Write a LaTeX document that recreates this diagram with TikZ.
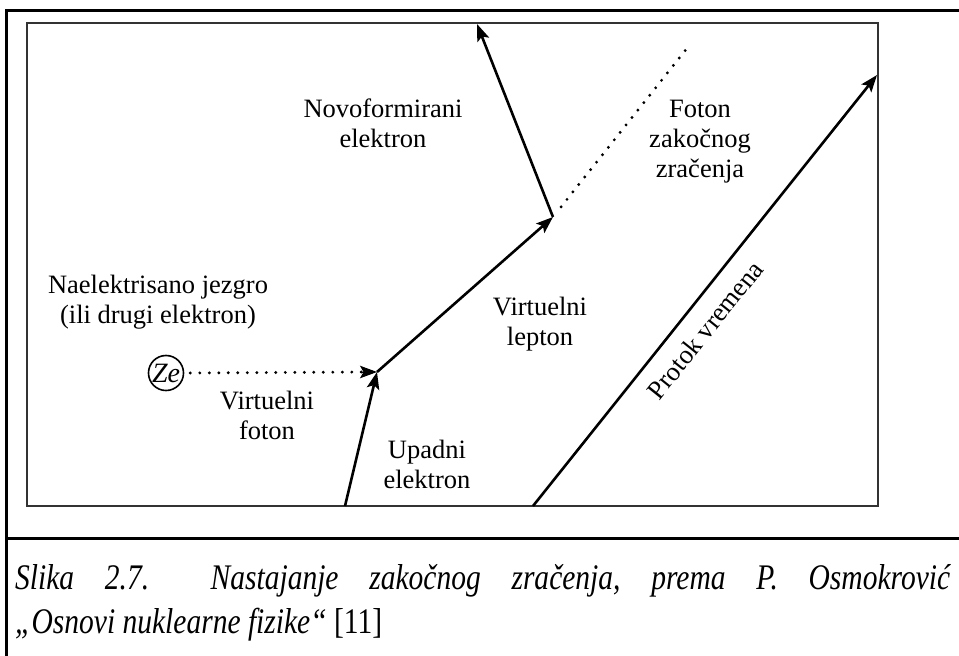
\documentclass[tikz,border=0pt]{standalone}
\usepackage{fontspec}
\usepackage{graphicx}
\setmainfont{Liberation Serif}
\newfontfamily\capfont[FakeStretch=0.82]{Liberation Serif}
\usetikzlibrary{arrows.meta,calc}
\begin{document}
\begin{tikzpicture}[x=1pt,y=-1pt,
  lbl/.style={align=center,font=\fontsize{26.5}{30}\selectfont,inner sep=0pt},
  arr/.style={line width=2.6pt,-{Stealth[length=17pt,width=12.5pt,inset=3.5pt]}},
  dotline/.style={line width=3.2pt,line cap=round,dash pattern=on 0pt off 9.5pt},
  frame/.style={line width=3pt},
  inbox/.style={line width=2pt,draw=black!80},
  captext/.style={anchor=base west,inner sep=0pt,font=\capfont\fontsize{36}{40}\selectfont\itshape}]
\useasboundingbox (0,0) rectangle (959,656);
% outer frame
\draw[frame] (6.5,656) -- (6.5,10) -- (959,10);
\draw[frame] (6.5,538) -- (959,538);
% inner box
\draw[inbox] (27,23) rectangle (878,506);
% vertices
\coordinate (u0) at (345,506);
\coordinate (v1) at (377,372);
\coordinate (v2) at (553,217);
\coordinate (ne) at (477,24);
\coordinate (ph) at (688,47);
\coordinate (t0) at (533,506);
\coordinate (t1) at (877,75);
\node[circle,draw,line width=1.6pt,inner sep=0.5pt,minimum size=32pt,font=\fontsize{28}{30}\selectfont\itshape] (ze) at (166,373) {Ze};
% connectors
\draw[arr] (u0) -- (v1);
\draw[arr] (v1) -- (v2);
\draw[arr] (v2) -- (ne);
\draw[dotline] ([xshift=6pt]ze.east) -- ([xshift=-14pt]v1);
\draw[arr,line width=1pt] ([xshift=-17pt]v1) -- (v1);
\draw[dotline] ($(v2)!0.06!(ph)$) -- (ph);
\draw[arr] (t0) -- (t1);
% labels
\node[lbl] (l1) at (158,302) {Naelektrisano jezgro\\(ili drugi elektron)};
\node[lbl] (l2) at (267,415) {Virtuelni\\foton};
\node[lbl] (l3) at (427,464) {Upadni\\elektron};
\node[lbl] (l4) at (383,123) {Novoformirani\\elektron};
\node[lbl] (l5) at (540,324) {Virtuelni\\lepton};
\node[lbl] (l6) at (700,142) {Foton\\zakočnog\\zračenja};
\node[lbl,rotate=51.3] (l7) at (705,330) {Protok vremena};
% caption
\node[captext] (c1) at (15,589)
  {\hbox to 935pt{Slika\hfill 2.7.\hfill\hfill Nastajanje\hfill zakočnog\hfill zračenja,\hfill prema\hfill P.\hfill Osmokrović}};
\node[captext] (c2) at (15,633)
  {„Osnovi nuklearne fizike“ {\upshape[11]}};
\end{tikzpicture}
\end{document}
